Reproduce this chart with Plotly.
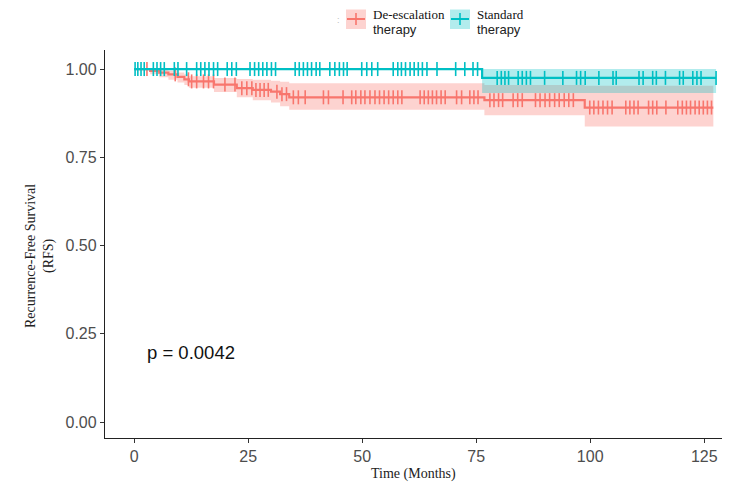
import numpy as np
import plotly.graph_objects as go

# ---- data ----
red_name = "De-escalation therapy"
teal_name = "Standard therapy"

red_time = [0, 3.5, 5.5, 7.5, 9.5, 11.0, 12.0, 17.5, 22.5, 26.0, 30.0, 32.0, 34.0, 76.8, 98.8]
red_surv = [1.0, 0.995, 0.990, 0.985, 0.978, 0.971, 0.965, 0.956, 0.946, 0.941, 0.936, 0.929, 0.920, 0.912, 0.891]
red_upper = [1.0, 1.000, 0.998, 0.995, 0.990, 0.985, 0.980, 0.975, 0.972, 0.970, 0.967, 0.964, 0.960, 0.955, 0.953]
red_lower = [1.0, 0.985, 0.977, 0.970, 0.962, 0.955, 0.947, 0.935, 0.920, 0.912, 0.905, 0.895, 0.885, 0.869, 0.837]
red_end = 127.0
red_censor = [2.8, 9.0, 11.9, 12.6, 13.7, 15.2, 16.3, 17.4, 19.9, 22.1, 23.6, 24.7, 25.8, 26.7,
              27.6, 28.5, 29.4, 31.3, 32.4, 33.4, 34.9, 36.0, 37.5, 41.5, 42.6, 45.8, 47.7, 48.6,
              49.7, 50.6, 51.7, 52.8, 53.8, 54.8, 55.8, 56.8, 57.8, 58.7, 62.7, 63.6, 64.5, 65.4,
              66.3, 67.3, 68.2, 70.7, 71.8, 73.6, 74.5, 75.4, 78.0, 78.9, 79.9, 80.8, 83.1, 84.1,
              85.1, 88.0, 89.0, 90.1, 91.1, 92.2, 93.2, 94.3, 95.3, 96.3, 99.9, 100.8, 101.8,
              102.8, 103.8, 104.8, 107.8, 108.7, 109.6, 110.5, 112.8, 113.7, 114.6, 116.6, 119.2,
              120.2, 121.1, 122.0, 123.0, 123.9, 124.8, 125.7, 126.6]

teal_time = [0, 76.3]
teal_surv = [1.0, 0.975]
teal_upper = [1.0, 1.0]
teal_lower = [1.0, 0.932]
teal_end = 127.6
teal_censor = [0.2, 0.8, 1.5, 2.2, 4.2, 5.0, 5.8, 6.6, 8.8, 9.6, 11.5, 13.7, 14.6, 15.5, 16.4,
               17.4, 18.3, 20.4, 21.4, 22.4, 25.4, 26.4, 27.3, 28.2, 29.1, 30.1, 31.0, 35.3,
               36.2, 37.1, 38.0, 38.9, 39.9, 40.7, 42.9, 44.0, 45.0, 45.9, 46.7, 49.9, 51.0,
               52.1, 53.4, 56.8, 57.8, 58.6, 59.5, 60.5, 61.4, 62.3, 63.2, 64.2, 66.4, 70.5,
               72.5, 74.3, 75.3, 79.6, 80.5, 81.3, 82.1, 84.2, 85.1, 86.0, 86.9, 90.0, 94.0,
               97.0, 97.9, 98.9, 101.9, 105.0, 105.7, 110.7, 111.6, 113.7, 114.5, 116.5, 119.6,
               120.4, 122.5, 123.4, 124.3, 127.6]

x_ticks = [0, 25, 50, 75, 100, 125]
y_ticks = [0, 0.25, 0.5, 0.75, 1.0]
y_ticktext = ["0.00", "0.25", "0.50", "0.75", "1.00"]
p_text = "p = 0.0042"

RED = "#F8766D"
TEAL = "#00BFC4"
RED_FILL = "rgba(248,118,109,0.32)"
TEAL_FILL = "rgba(0,191,196,0.30)"

fig = go.Figure()


def add_group(times, surv, up, lo, end, censor, col, fill):
    xs = list(times) + [end]
    ys = list(surv) + [surv[-1]]
    ups = list(up) + [up[-1]]
    los = list(lo) + [lo[-1]]
    fig.add_trace(go.Scatter(x=xs, y=los, mode="lines", line=dict(width=0, shape="hv"),
                             hoverinfo="skip", showlegend=False))
    fig.add_trace(go.Scatter(x=xs, y=ups, mode="lines", line=dict(width=0, shape="hv"),
                             fill="tonexty", fillcolor=fill, hoverinfo="skip", showlegend=False))
    fig.add_trace(go.Scatter(x=xs, y=ys, mode="lines", line=dict(color=col, width=2.2, shape="hv"),
                             showlegend=False))
    idx = np.searchsorted(np.array(times), np.array(censor), side="right") - 1
    cy = np.array(surv)[idx]
    fig.add_trace(go.Scatter(x=censor, y=cy, mode="markers",
                             marker=dict(symbol="line-ns-open", size=10, color=col,
                                         line=dict(color=col, width=1.6)),
                             showlegend=False))


add_group(red_time, red_surv, red_upper, red_lower, red_end, red_censor, RED, RED_FILL)
add_group(teal_time, teal_surv, teal_upper, teal_lower, teal_end, teal_censor, TEAL, TEAL_FILL)

L, R, T, B = 105, 28, 50, 58
W, H = 750, 496
PW, PH = W - L - R, H - T - B


def px(xp):
    return (xp - L) / PW


def py(yp):
    return (H - B - yp) / PH


tick_font = dict(family="Liberation Sans", size=16, color="#4D4D4D")
fig.update_layout(
    width=W, height=H, margin=dict(l=L, r=R, t=T, b=B),
    plot_bgcolor="white", paper_bgcolor="white", showlegend=False,
    xaxis=dict(range=[-6.4, 128.9], tickvals=x_ticks, ticks="outside", ticklen=4,
               tickcolor="#333", tickwidth=1.2, showline=True, linecolor="#222", linewidth=1.3,
               showgrid=False, zeroline=False, tickfont=tick_font),
    yaxis=dict(range=[-0.045, 1.054], tickvals=y_ticks, ticktext=y_ticktext, ticks="outside",
               ticklen=4, tickcolor="#333", tickwidth=1.2, showline=True, linecolor="#222",
               linewidth=1.3, showgrid=False, zeroline=False, tickfont=tick_font),
)

serif = "Liberation Serif"
sans = "Liberation Sans"
ann = []
ann.append(dict(x=px(40), y=py(256), xref="paper", yref="paper", xanchor="center",
                yanchor="middle", textangle=-90,
                text="Recurrence-Free Survival<br>(RFS)", showarrow=False,
                font=dict(family=serif, size=14, color="#222"), align="center"))
ann.append(dict(x=px(413), y=py(474), xref="paper", yref="paper", xanchor="center",
                yanchor="middle", text="Time (Months)",
                showarrow=False, font=dict(family=serif, size=14, color="#222")))
ann.append(dict(x=2.4, y=0.198, xref="x", yref="y", xanchor="left", yanchor="middle",
                text=p_text, showarrow=False, font=dict(family=sans, size=18.5, color="#111")))

# legend (drawn manually to mimic ggplot keys)
shapes = []
ann.append(dict(x=px(338), y=py(20), xref="paper", yref="paper", xanchor="center",
                yanchor="middle", text=":", showarrow=False,
                font=dict(family=sans, size=9, color="#bbb")))
for x0, col, fill, l1 in [(346, RED, RED_FILL, "De-escalation"), (450, TEAL, TEAL_FILL, "Standard")]:
    shapes.append(dict(type="rect", xref="paper", yref="paper", x0=px(x0), x1=px(x0 + 20),
                       y0=py(9.5), y1=py(29), fillcolor=fill, line=dict(width=0)))
    shapes.append(dict(type="line", xref="paper", yref="paper", x0=px(x0 + 1), x1=px(x0 + 19),
                       y0=py(19), y1=py(19), line=dict(color=col, width=2)))
    shapes.append(dict(type="line", xref="paper", yref="paper", x0=px(x0 + 10), x1=px(x0 + 10),
                       y0=py(13), y1=py(25), line=dict(color=col, width=1.6)))
    label = (f"<span style='font-family:{serif};font-size:13px;color:#111'>{l1}</span><br>"
             f"<span style='font-family:{sans};font-size:13px;color:#222'>therapy</span>")
    ann.append(dict(x=px(x0 + 25), y=py(21.5), xref="paper", yref="paper", xanchor="left",
                    yanchor="middle", text=label, showarrow=False, align="left",
                    font=dict(family=sans, size=11.5, color="#222")))

fig.update_layout(annotations=ann, shapes=shapes)
fig.write_html("out.html")
